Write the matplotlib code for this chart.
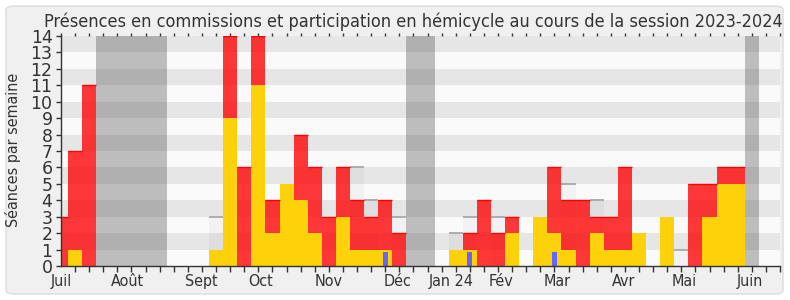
import numpy as np
import matplotlib
matplotlib.use("Agg")
import matplotlib.pyplot as plt
from matplotlib.patches import FancyBboxPatch

# ---- data (weekly, week 0 = first week of July 2023) ----
weeks = np.arange(51)
hemicycle = [0, 1, 0, 0, 0, 0, 0, 0, 0, 0, 0, 1, 9, 0, 11, 2, 5, 4, 2, 0,
             3, 1, 1, 1, 0, 0, 0, 0, 1, 1, 0, 0, 2, 0, 3, 2, 1, 0, 2, 1,
             1, 2, 0, 3, 0, 0, 3, 5, 5, 0, 0]
commission = [3, 6, 11, 0, 0, 0, 0, 0, 0, 0, 0, 0, 5, 6, 3, 2, 0, 4, 4, 3,
              3, 3, 2, 3, 2, 0, 0, 0, 0, 1, 4, 2, 1, 0, 0, 4, 3, 4, 1, 2,
              5, 0, 0, 0, 0, 5, 2, 1, 1, 0, 0]
questions = [0, 0, 0, 0, 0, 0, 0, 0, 0, 0, 0, 0, 0, 0, 0, 0, 0, 0, 0, 0,
             0, 0, 0, 0.85, 0, 0, 0, 0, 0, 0.85, 0, 0, 0, 0, 0, 0.85, 0, 0, 0, 0,
             0, 0, 0, 0, 0, 0, 0, 0, 0, 0, 0]
median = [0, 0, 0, 0, 0, 0, 0, 0, 0, 0, 0, 3, 0, 0, 0, 0, 0, 0, 0, 0,
          0, 6, 4, 0, 3, 0, 0, 0, 2, 3, 0, 3, 0, 0, 0, 0, 5, 0, 4, 0,
          0, 0, 0, 0, 1, 0, 0, 0, 0, 0, 0]
vacances = [(2.5, 7.5), (24.5, 26.5), (48.5, 49.5)]
month_labels = ["Juil", "Août", "Sept", "Oct", "Nov", "Déc", "Jan 24", "Fév",
                "Mar", "Avr", "Mai", "Juin"]
month_pos = [0.0, 4.68, 9.98, 14.16, 18.99, 23.9, 27.7, 31.2, 35.16, 39.93,
             44.18, 48.9]
title = "Présences en commissions et participation en hémicycle au cours de la session 2023-2024"

hemicycle = np.array(hemicycle, dtype=float)
commission = np.array(commission, dtype=float)
questions = np.array(questions, dtype=float)
median = np.array(median, dtype=float)

plt.rcParams['font.family'] = ['DejaVu Sans']
plt.rcParams['font.stretch'] = 'condensed'
txt = '#333333'

fig = plt.figure(figsize=(7.9, 3.0), dpi=100, facecolor='white')
bg = FancyBboxPatch((6 / 790, 6 / 300), 777 / 790, 288 / 300,
                    boxstyle="round,pad=0,rounding_size=0.012",
                    transform=fig.transFigure, facecolor='#f0f0f0',
                    edgecolor='#dcdcdc', linewidth=1.0, zorder=-10)
fig.patches.append(bg)

ax = fig.add_axes([61 / 790, 34 / 300, 719 / 790, 230 / 300])
ax.set_xlim(0, 51)
ax.set_ylim(0, 14)
ax.set_facecolor('#fafafa')

# horizontal stripes
for v in range(1, 14, 2):
    ax.axhspan(v, v + 1, color='#e6e6e6', lw=0, zorder=0)

# median
nz = median > 0
ax.bar(weeks[nz], median[nz], width=1.0, color=(0, 0, 0, 0.03), lw=0, zorder=1)
ax.hlines(median[nz], weeks[nz] - 0.5, weeks[nz] + 0.5, color='#a8a8a8', lw=1.3, zorder=1.5)

# bars
ax.bar(weeks, hemicycle, width=1.0, color='#fdd20b', lw=0, zorder=2)
ax.bar(weeks, commission, bottom=hemicycle, width=1.0, color=(1, 0, 0, 0.78), lw=0, zorder=3)
rc = commission > 0
ax.hlines((hemicycle + commission)[rc], weeks[rc] - 0.5, weeks[rc] + 0.5,
          color='#ff0000', lw=1.0, zorder=3.5)
ax.bar(weeks, questions, width=0.35, color='#6666ff', lw=0, zorder=4)

# vacations
for a, b in vacances:
    ax.axvspan(a, b, color=(0.2, 0.2, 0.2, 0.3), lw=0, zorder=5)

for s in ['top', 'right']:
    ax.spines[s].set_visible(False)
for s in ['left', 'bottom']:
    ax.spines[s].set_color('#333333')
    ax.spines[s].set_linewidth(1.0)
    ax.spines[s].set_zorder(6)

ax.set_yticks(range(0, 15))
ax.tick_params(axis='y', length=3.6, width=1, color='#333333', labelcolor=txt,
               labelsize=12.5, pad=2.5)
for lab in ax.get_yticklabels():
    lab.set_fontstretch('normal')
ax.set_xticks(month_pos)
ax.set_xticklabels(month_labels)
ax.set_xticks(np.arange(0, 52), minor=True)
ax.tick_params(axis='x', which='major', length=0, labelcolor=txt, labelsize=11.5, pad=6)
ax.tick_params(axis='x', which='minor', length=4.3, width=1, color='#333333')

ax2 = ax.twiny()
ax2.set_xlim(ax.get_xlim())
ax2.set_xticks(np.arange(0, 52))
ax2.tick_params(axis='x', length=2, width=1, color='#333333', labelsize=0,
                labeltop=False, direction='out')
for s in ax2.spines.values():
    s.set_visible(False)

ax.set_ylabel("Séances par semaine", color=txt, fontsize=11.5)
ax.yaxis.set_label_coords(-40 / 719, 0.505)
fig.text(413 / 790, 1 - 27 / 300, title, ha='center', va='baseline',
         fontsize=13, color=txt)

fig.savefig("out.png", dpi=100, facecolor='white')
